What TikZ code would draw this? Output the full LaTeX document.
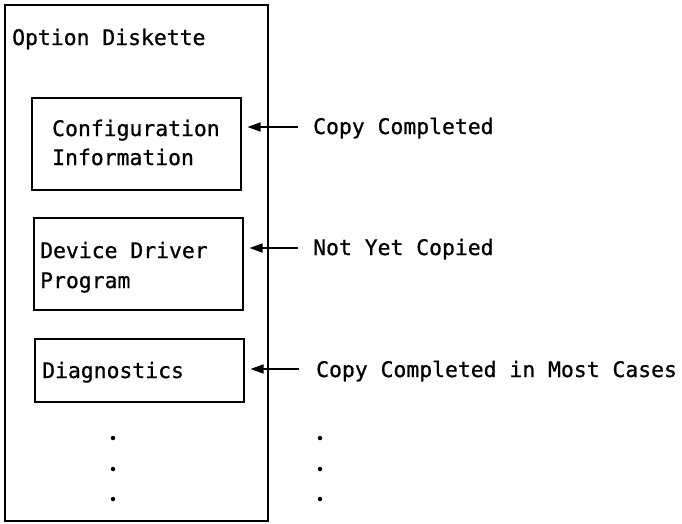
\documentclass[tikz,border=0pt]{standalone}
\usepackage{fontspec}
\setmonofont[FakeBold=0.8]{DejaVu Sans Mono}
\usetikzlibrary{arrows.meta}
\begin{document}
\begin{tikzpicture}[x=1pt,y=-1pt,
  frame/.style={draw,line width=1.5pt,inner sep=0pt,anchor=north west},
  txt/.style={anchor=base west,inner sep=0pt,font=\ttfamily\fontsize{21.4}{30}\selectfont},
  lbl/.style={txt},
  pointer/.style={line width=1.5pt,-{Triangle[length=13pt,width=9pt]},shorten >=6pt},
  dot/.style={circle,fill,inner sep=0pt,minimum size=4.5pt}]
\useasboundingbox (0,0) rectangle (682,523);
% outer diskette
\node[frame,minimum width=263pt,minimum height=516pt] (disk) at (4,4) {};
\node[txt] (title) at (12,45) {Option Diskette};
% inner boxes
\node[frame,minimum width=209pt,minimum height=92pt] (b1) at (31,97) {};
\node[frame,minimum width=209pt,minimum height=92pt] (b2) at (33,217) {};
\node[frame,minimum width=209pt,minimum height=63pt] (b3) at (34,338) {};
\node[txt] (t1a) at (52,136) {Configuration};
\node[txt] (t1b) at (52,165) {Information};
\node[txt] (t2a) at (40,258) {Device Driver};
\node[txt] (t2b) at (40,288) {Program};
\node[txt] (t3) at (42,378) {Diagnostics};
% labels
\node[lbl] (l1) at (313,134) {Copy Completed};
\node[lbl] (l2) at (313,255) {Not Yet Copied};
\node[lbl] (l3) at (316,377) {Copy Completed in Most Cases};
\coordinate (c1) at (298,127);
\coordinate (c2) at (298,248);
\coordinate (c3) at (299,369);
\draw[pointer] (c1) -- (b1.east |- c1);
\draw[pointer] (c2) -- (b2.east |- c2);
\draw[pointer] (c3) -- (b3.east |- c3);
% dots
\foreach \y [count=\i] in {438,469,499} {
  \node[dot] (dl\i) at (113,\y) {};
  \node[dot] (dr\i) at (320,\y) {};
}
\end{tikzpicture}
\end{document}
